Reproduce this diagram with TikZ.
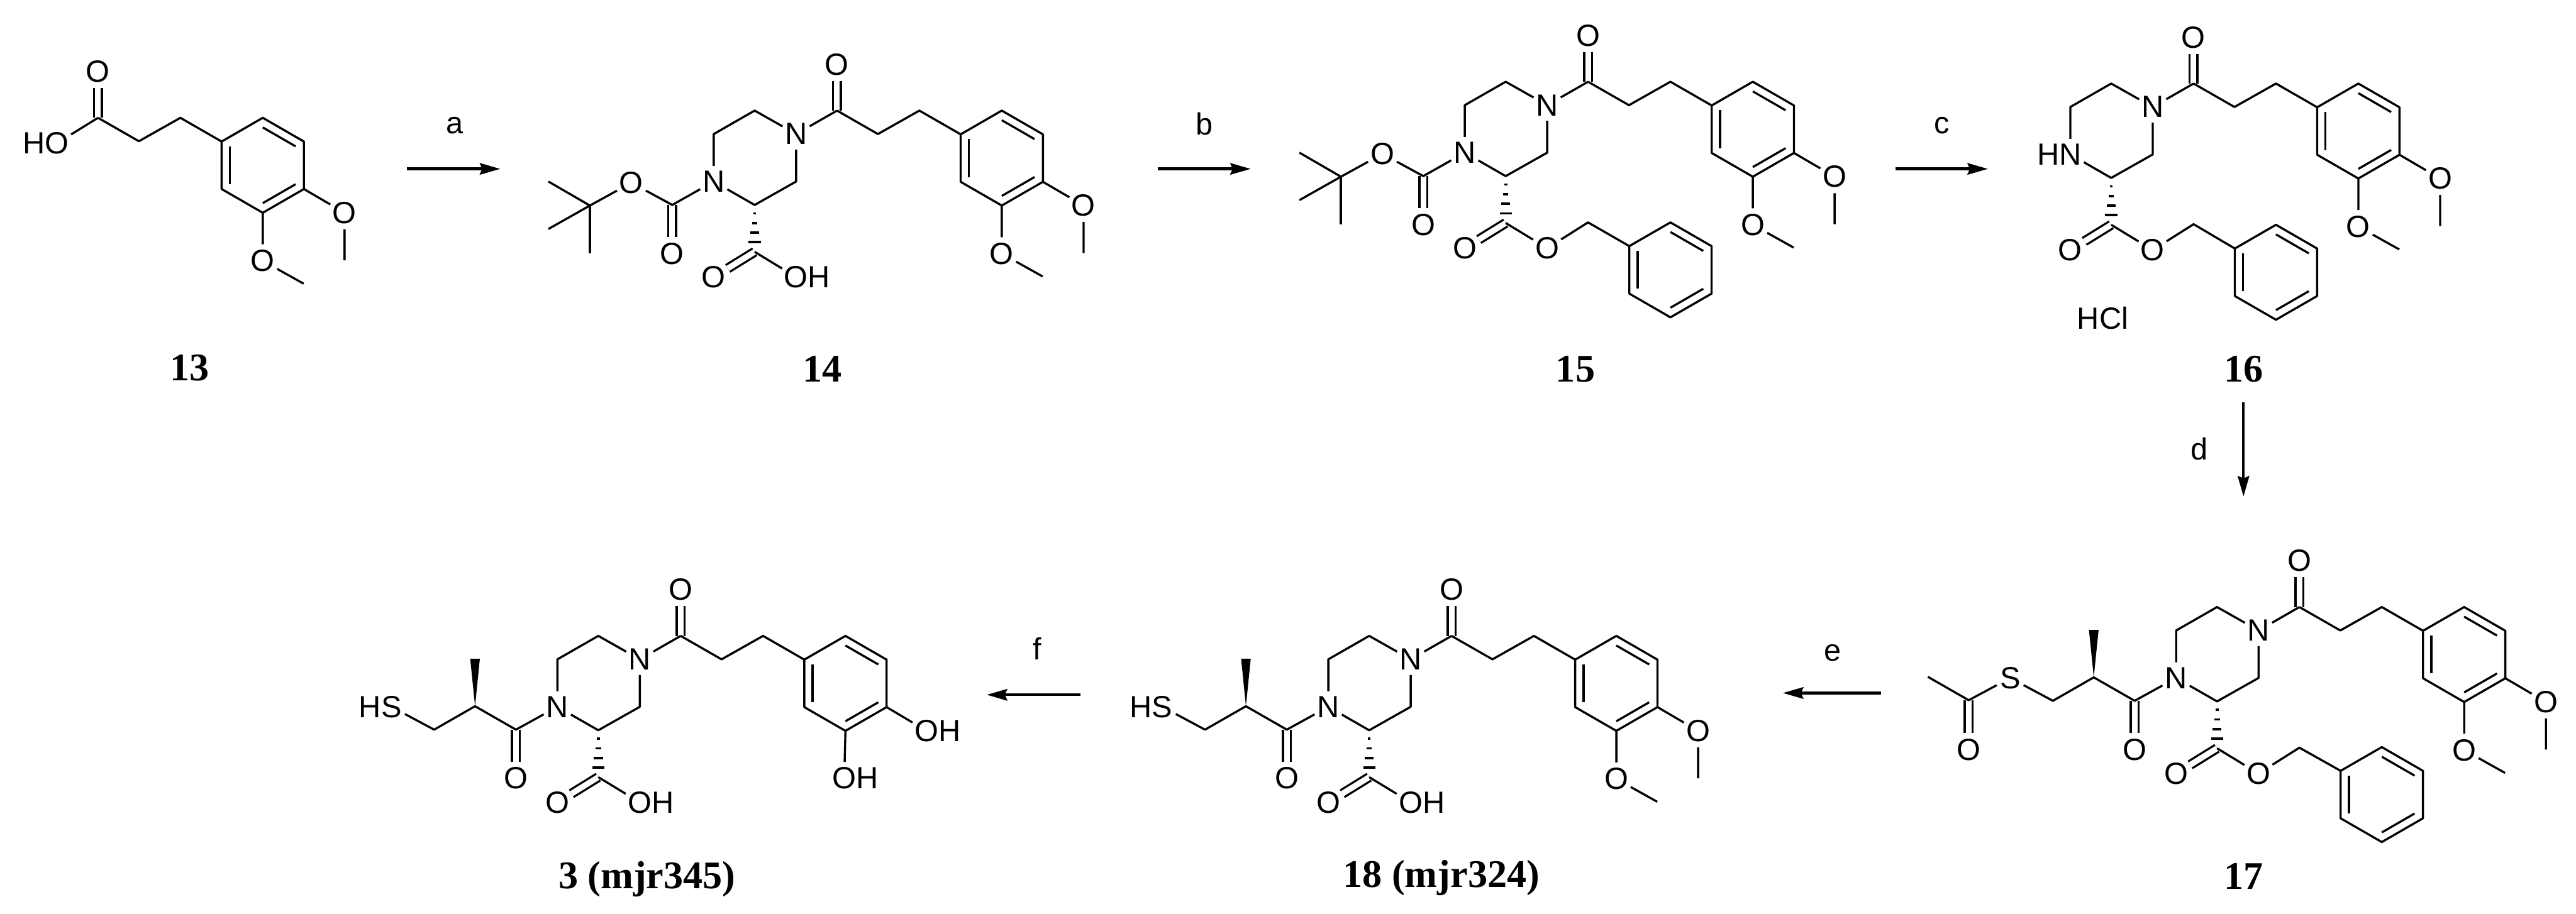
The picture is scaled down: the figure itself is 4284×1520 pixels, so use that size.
\documentclass[tikz,border=0pt]{standalone}
\usepackage{fontspec}
\setmainfont{Liberation Sans}
\newfontfamily\serifbold[BoldFont={Liberation Serif Bold}]{Liberation Serif}
\usetikzlibrary{arrows.meta}

\begin{document}
\begin{tikzpicture}[
    x=0.01cm,
    y=-0.01cm,
    >={Stealth[length=0.34cm,width=0.19cm,inset=0.04cm]},
    bond/.style={line width=1pt,line join=round},
    dbond/.style={line width=1pt,double,double distance=0.095cm},
    wedge/.style={fill=black},
    hash/.style={line width=1.1pt},
    atom/.style={circle,inner sep=0pt,font=\fontsize{14.5pt}{16pt}\selectfont},
    plain/.style={inner sep=0pt,font=\fontsize{14.5pt}{16pt}\selectfont},
    compound/.style={inner sep=0pt,font=\fontsize{18.5pt}{20pt}\serifbold\bfseries},
    reaction/.style={->,line width=1.3pt}
    ]
    \useasboundingbox (0,0) rectangle (4284,1520);
    % benzene rings
    \foreach \r/\x/\y in {13/437/275,14/1666/263,15/2915/215,16/3922/218,17/4098/1089,18/2688/1137,3/1406/1137,b15/2778/449,b16/3785/453,b17/3961/1322} {
        \begin{scope}[shift={(\x,\y)}]
            \foreach \v/\a in {1/210,2/270,3/330,4/30,5/90,6/150} {
                \coordinate (r\r-\v) at (\a:79);
            }
            \draw [bond] (r\r-1) -- (r\r-2) -- (r\r-3) -- (r\r-4) -- (r\r-5) -- (r\r-6) -- cycle;
            \foreach \a in {150,270,30} {
                \draw [bond] (\a:63) -- (\a+60:63);
            }
        \end{scope}
    }
    % carbonyl and chain up to the ring
    \foreach \m/\x/\y in {13/163/196,14/1392/184,15/2641/136,16/3648/139,17/3824/1010,18/2414/1058,3/1132/1058} {
        \begin{scope}[shift={(\x,\y)}]
            \coordinate (k\m) at (0,0);
            \coordinate (a\m) at (68,39);
            \coordinate (b\m) at (137,0);
            \node [atom] (o\m) at (0,-77) {O};
            \draw [dbond] (k\m) -- (o\m);
            \draw [bond] (k\m) -- (a\m) -- (b\m) -- (r\m-1);
        \end{scope}
    }
    % methoxy groups
    \foreach \m in {13,14,15,16,17,18} {
        \begin{scope}[shift={(k\m)}]
            \node [atom] (ma\m) at (410,158) {O};
            \coordinate (mb\m) at (410,237);
            \node [atom] (mc\m) at (274,238) {O};
            \coordinate (md\m) at (342,276);
            \draw [bond] (r\m-4) -- (ma\m) -- (mb\m);
            \draw [bond] (r\m-5) -- (mc\m) -- (md\m);
        \end{scope}
    }
    % free acid of 13
    \node [atom] (ho13) at (95,238) {\llap{H}O};
    \draw [bond] (k13) -- (ho13);
    % catechol of 3
    \node [atom] (ma3) at (1541,1216) {O\rlap{H}};
    \node [atom] (mc3) at (1404,1295) {O\rlap{H}};
    \draw [bond] (r3-4) -- (ma3);
    \draw [bond] (r3-5) -- (mc3);
    % piperazine
    \foreach \m/\n in {14/N,15/N,16/\llap{H}N,17/N,18/N,3/N} {
        \begin{scope}[shift={(k\m)}]
            \node [atom] (na\m) at (-68,39) {N};
            \coordinate (pa\m) at (-137,0);
            \coordinate (pb\m) at (-205,39);
            \node [atom] (nb\m) at (-205,118) {\n};
            \coordinate (pc\m) at (-137,157);
            \coordinate (pd\m) at (-68,118);
            \draw [bond] (k\m) -- (na\m);
            \draw [bond] (na\m) -- (pa\m) -- (pb\m) -- (nb\m) -- (pc\m) -- (pd\m) -- (na\m);
            % hashed bond
            \foreach \h/\w in {171/2.5,187/4.5,203/7.5,219/10} {
                \draw [hash] (-137-\w,\h) -- (-137+\w,\h);
            }
            \coordinate (c\m) at (-137,235);
            \node [atom] (oc\m) at (-205,277) {O};
            \draw [dbond] (c\m) -- (oc\m);
        \end{scope}
    }
    % acids
    \foreach \m in {14,18,3} {
        \node [atom] (oh\m) at ([shift={(-68,277)}]k\m) {O\rlap{H}};
        \draw [bond] (c\m) -- (oh\m);
    }
    % benzyl esters
    \foreach \m in {15,16,17} {
        \node [atom] (oe\m) at ([shift={(-68,277)}]k\m) {O};
        \coordinate (ch\m) at ([shift={(0,234)}]k\m);
        \draw [bond] (c\m) -- (oe\m) -- (ch\m) -- (rb\m-1);
    }
    % boc
    \foreach \m in {14,15} {
        \begin{scope}[shift={(k\m)}]
            \coordinate (bc\m) at (-274,157);
            \node [atom] (bo\m) at (-274,238) {O};
            \node [atom] (be\m) at (-342,120) {O};
            \coordinate (tb\m) at (-411,158);
            \coordinate (tc\m) at (-480,118);
            \coordinate (td\m) at (-480,197);
            \coordinate (te\m) at (-411,237);
            \draw [dbond] (bc\m) -- (bo\m);
            \draw [bond] (nb\m) -- (bc\m) -- (be\m) -- (tb\m);
            \draw [bond] (tc\m) -- (tb\m) -- (td\m);
            \draw [bond] (tb\m) -- (te\m);
        \end{scope}
    }
    % methyl side chain
    \foreach \m/\s in {17/S,18/\llap{H}S,3/\llap{H}S} {
        \begin{scope}[shift={(k\m)}]
            \coordinate (sa\m) at (-274,156);
            \node [atom] (so\m) at (-274,237) {O};
            \coordinate (sb\m) at (-342,117);
            \coordinate (sc\m) at (-342,38);
            \coordinate (sd\m) at (-410,156);
            \node [atom] (se\m) at (-481,118) {\s};
            \draw [dbond] (sa\m) -- (so\m);
            \draw [bond] (nb\m) -- (sa\m) -- (sb\m) -- (sd\m) -- (se\m);
            \fill [wedge] (sb\m) -- (-350,38) -- (-334,38) -- cycle;
        \end{scope}
    }
    % acetyl of 17
    \coordinate (ac17) at (3274,1165);
    \node [atom] (ao17) at (3274,1247) {O};
    \coordinate (am17) at (3206,1126);
    \draw [dbond] (ac17) -- (ao17);
    \draw [bond] (am17) -- (ac17) -- (se17);
    % salt
    \node [plain] (hcl) at (3497,529) {HCl};
    % compound names
    \foreach \m/\x/\y/\t in {13/315/612/13,14/1368/614/14,15/2620/614/15,16/3731/614/16,17/3731/1458/17,18/2397/1461/18 (mjr324),3/1076/1463/3 (mjr345)} {
        \node [compound] (name\m) at (\x,\y) {\t};
    }
    % steps
    \foreach \st/\x/\y in {a/756/209,b/2003/206,c/3229/209,d/3657/747,e/3048/1086,f/1725/1079} {
        \node [plain] (step\st) at (\x,\y) {\st};
    }
    \foreach \st/\xa/\ya/\xb/\yb in {a/677/281/832/281,b/1925/281/2080/281,c/3152/281/3306/281,d/3731/669/3731/826,e/3128/1153/2965/1153,f/1797/1156/1641/1156} {
        \coordinate (from\st) at (\xa,\ya);
        \coordinate (to\st) at (\xb,\yb);
        \draw [reaction] (from\st) -- (to\st);
    }
\end{tikzpicture}
\end{document}
